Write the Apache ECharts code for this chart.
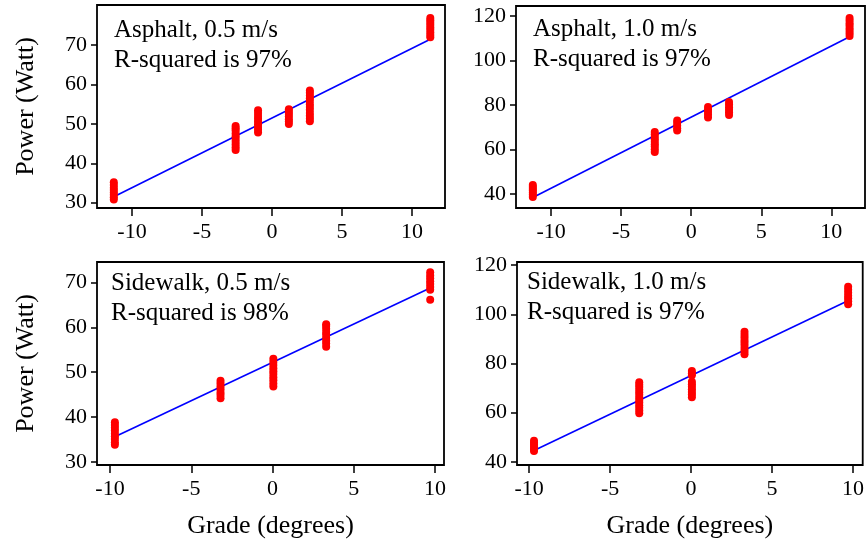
<!DOCTYPE html>
<html><head><meta charset="utf-8">
<script src="https://cdn.jsdelivr.net/npm/echarts@6/dist/echarts.min.js"></script>
<style>html,body{margin:0;padding:0;background:#fff}#c{width:867px;height:546px}</style>
</head><body><div id="c"></div>
<script>
// ---- data ----
const asphaltGrades = [-11.3, -2.6, -1.0, 1.2, 2.7, 11.3];
const sidewalkGrades = [-9.7, -3.2, 0.05, 3.3, 9.7];

const asphalt05Power = [
  [30.8, 31.4, 32.0, 32.6, 33.2, 33.8, 34.5, 35.2],
  [43.4, 44.1, 44.8, 45.5, 46.2, 46.9, 47.6, 48.3, 48.9, 49.5],
  [47.8, 48.5, 49.2, 49.9, 50.6, 51.3, 52.0, 52.8, 53.5],
  [50.0, 50.6, 51.2, 51.9, 52.5, 53.1, 53.7],
  [50.7, 51.4, 52.1, 52.8, 53.6, 54.3, 55.0, 55.8, 56.5, 57.2, 57.9, 58.5],
  [72.0, 72.6, 73.2, 73.9, 74.5, 75.1, 75.7, 76.3, 76.9]
];
const asphalt10Power = [
  [38.7, 39.6, 40.5, 41.4, 42.2, 43.1, 44.0],
  [58.9, 60.1, 61.3, 62.4, 63.5, 64.6, 65.7, 66.8, 67.9],
  [68.5, 69.6, 70.7, 71.9, 73.0],
  [74.4, 75.6, 76.8, 77.9, 79.1],
  [75.5, 76.7, 77.9, 79.0, 80.2, 81.3],
  [111.0, 112.2, 113.4, 114.5, 115.7, 116.8, 118.0, 119.1]
];
const sidewalk05Power = [
  [33.8, 34.4, 35.1, 35.7, 36.3, 37.0, 37.6, 38.2, 38.85],
  [44.2, 44.9, 45.5, 46.2, 46.8, 47.5, 48.1],
  [46.8, 47.5, 48.2, 48.9, 49.6, 50.2, 50.9, 51.6, 52.3, 53.0],
  [55.7, 56.4, 57.0, 57.7, 58.4, 59.0, 59.7, 60.3, 60.7],
  [66.2, 68.4, 69.0, 69.7, 70.3, 71.0, 71.6, 72.3]
];
const sidewalk10Power = [
  [44.4, 45.2, 46.1, 46.9, 47.8, 48.6],
  [59.8, 60.9, 62.0, 63.0, 64.1, 65.1, 66.2, 67.3, 68.3, 69.3, 70.4, 71.4, 72.4],
  [66.3, 67.4, 68.4, 69.5, 70.5, 71.6, 72.6, 75.2, 76.0, 76.9],
  [83.8, 84.9, 86.0, 87.2, 88.3, 89.4, 90.6, 91.7, 92.9],
  [104.1, 105.3, 106.5, 107.6, 108.8, 110.0, 111.2]
];

// fitted line end points
const asphalt05FitX = [-11.3, 11.3], asphalt05FitY = [31.5, 71.5];
const asphalt10FitX = [-11.3, 11.3], asphalt10FitY = [38.4, 110.7];
const sidewalk05FitX = [-9.7, 9.7],  sidewalk05FitY = [35.6, 68.8];
const sidewalk10FitX = [-9.7, 9.75], sidewalk10FitY = [44.6, 105.7];

const xTicks = [-10, -5, 0, 5, 10];
const yTicks05 = [30, 40, 50, 60, 70];
const yTicks10 = [40, 60, 80, 100, 120];
const panelTitles = ['Asphalt, 0.5 m/s', 'Asphalt, 1.0 m/s', 'Sidewalk, 0.5 m/s', 'Sidewalk, 1.0 m/s'];
const rSquaredTexts = ['R-squared is 97%', 'R-squared is 97%', 'R-squared is 98%', 'R-squared is 97%'];
const yAxisTitle = 'Power (Watt)';
const xAxisTitle = 'Grade (degrees)';

// ---- build ----
const FONT = 'Liberation Serif, Times New Roman, serif';
function pts(grades, power) {
  const out = [];
  grades.forEach((g, i) => power[i].forEach(v => out.push([g, v])));
  return out;
}
function fit(xs, ys) { return xs.map((x, i) => [x, ys[i]]); }

const panels = [
  {grid: {left: 97, top: 5, width: 348, height: 203}, xr: [-12.5, 12.35], yr: [28.65, 80.2], yt: yTicks05,
   data: pts(asphaltGrades, asphalt05Power), line: fit(asphalt05FitX, asphalt05FitY), yName: true, xName: false, tx: 114, ty: 15},
  {grid: {left: 516, top: 6, width: 349, height: 202}, xr: [-12.5, 12.4], yr: [33.7, 124.5], yt: yTicks10,
   data: pts(asphaltGrades, asphalt10Power), line: fit(asphalt10FitX, asphalt10FitY), yName: false, xName: false, tx: 533, ty: 14},
  {grid: {left: 97, top: 262, width: 347, height: 203}, xr: [-10.8, 10.55], yr: [29.3, 74.6], yt: yTicks05,
   data: pts(sidewalkGrades, sidewalk05Power), line: fit(sidewalk05FitX, sidewalk05FitY), yName: true, xName: true, tx: 111, ty: 268},
  {grid: {left: 517, top: 262, width: 346, height: 203}, xr: [-10.75, 10.6], yr: [38.7, 121.3], yt: yTicks10,
   data: pts(sidewalkGrades, sidewalk10Power), line: fit(sidewalk10FitX, sidewalk10FitY), yName: false, xName: true, tx: 527, ty: 267}
];

const option = {
  animation: false,
  backgroundColor: '#fff',
  grid: [], xAxis: [], yAxis: [], series: [], graphic: []
};
panels.forEach((p, i) => {
  option.grid.push(Object.assign({show: true, borderColor: '#000', borderWidth: 1.8, backgroundColor: 'transparent'}, p.grid));
  option.xAxis.push({
    type: 'value', gridIndex: i, min: p.xr[0], max: p.xr[1],
    axisLine: {show: false}, splitLine: {show: false},
    axisTick: {show: true, inside: false, length: 8, lineStyle: {color: '#000', width: 1.5}, customValues: xTicks},
    axisLabel: {show: true, color: '#000', fontFamily: FONT, fontSize: 22, margin: 13, customValues: xTicks,
      formatter: v => String(v)},
    name: p.xName ? xAxisTitle : '', nameLocation: 'middle', nameGap: 48,
    nameTextStyle: {color: '#000', fontFamily: FONT, fontSize: 26}
  });
  option.yAxis.push({
    type: 'value', gridIndex: i, min: p.yr[0], max: p.yr[1],
    axisLine: {show: false, onZero: false}, splitLine: {show: false},
    axisTick: {show: true, inside: false, length: 6, lineStyle: {color: '#000', width: 1.5}, customValues: p.yt},
    axisLabel: {show: true, color: '#000', fontFamily: FONT, fontSize: 22, margin: 10, customValues: p.yt},
    name: p.yName ? yAxisTitle : '', nameLocation: 'middle', nameGap: 58,
    nameTextStyle: {color: '#000', fontFamily: FONT, fontSize: 26}
  });
  option.series.push({
    type: 'line', xAxisIndex: i, yAxisIndex: i, data: p.line, symbol: 'none',
    lineStyle: {color: '#0000ff', width: 1.6}, z: 2, silent: true
  });
  option.series.push({
    type: 'scatter', xAxisIndex: i, yAxisIndex: i, data: p.data, symbol: 'circle', symbolSize: 8,
    itemStyle: {color: '#ff0000', opacity: 1}, z: 3, silent: true
  });
  option.graphic.push({
    type: 'text', left: p.tx, top: p.ty, z: 10,
    style: {text: panelTitles[i] + '\n' + rSquaredTexts[i], fill: '#000', font: '25px ' + FONT, lineHeight: 30}
  });
});

const chart = echarts.init(document.getElementById('c'), null, {renderer: 'canvas'});
chart.setOption(option);
</script>
</body></html>
